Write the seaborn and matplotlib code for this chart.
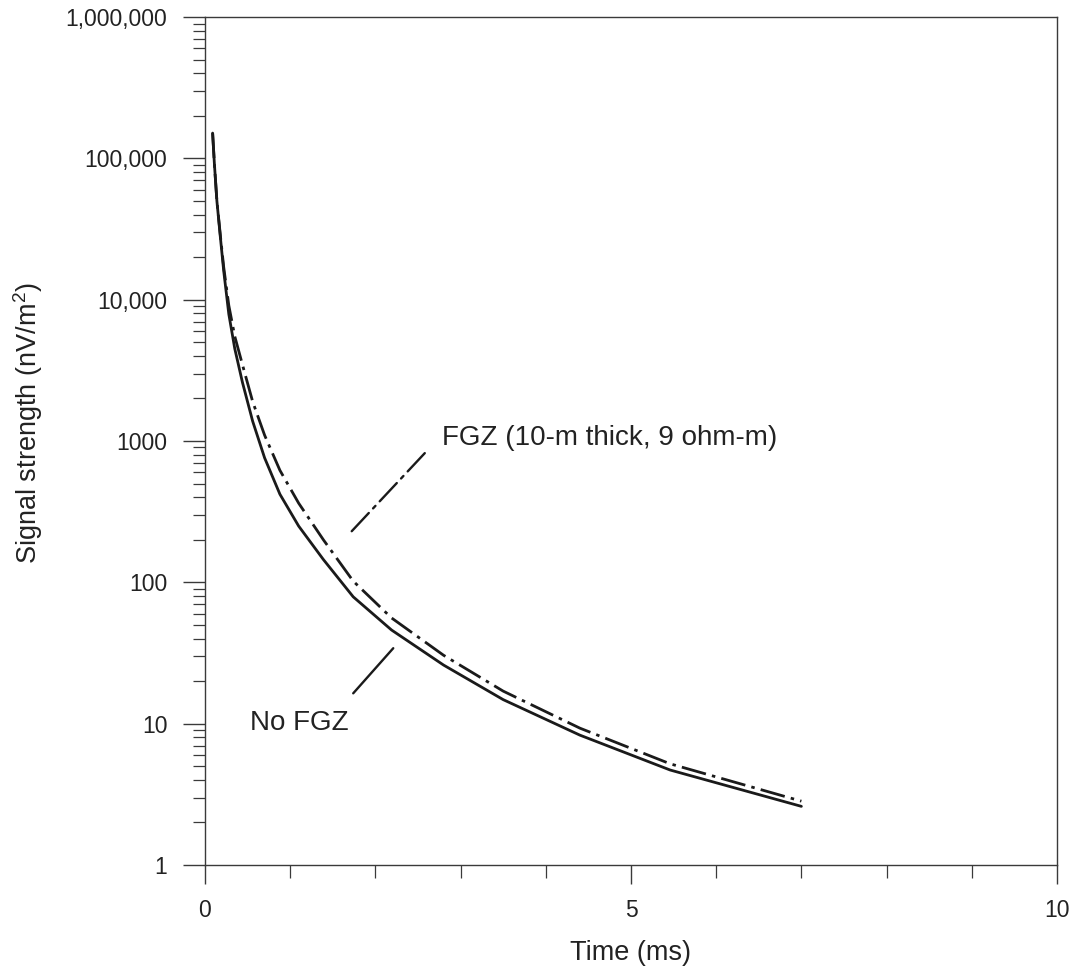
import numpy as np
import pandas as pd
import matplotlib
matplotlib.use("Agg")
import matplotlib.pyplot as plt
import seaborn as sns
from matplotlib.ticker import FixedLocator, LogLocator, NullFormatter, FixedFormatter, MultipleLocator

# ---- data ----
time_ms = [0.09, 0.11, 0.14, 0.18, 0.22, 0.28, 0.35, 0.44, 0.56, 0.70,
           0.88, 1.10, 1.39, 1.74, 2.19, 2.80, 3.50, 4.40, 5.46, 7.00]
no_fgz = [151000, 93000, 50000, 28000, 16000, 7900, 4500, 2600, 1380, 760,
          420, 250, 145, 79, 46, 26, 14.8, 8.3, 4.7, 2.6]
fgz = [151000, 93000, 50000, 28800, 17000, 9100, 5500, 3470, 1900, 1100,
       620, 363, 200, 102, 56, 30.5, 17, 9.3, 5.2, 2.83]
series_names = ["No FGZ", "FGZ (10-m thick, 9 ohm-m)"]
y_tick_values = [1, 10, 100, 1000, 10000, 100000, 1000000]
y_tick_labels = ["1", "10", "100", "1000", "10,000", "100,000", "1,000,000"]
x_tick_values = [0, 5, 10]

df = pd.concat([
    pd.DataFrame({"t": time_ms, "v": no_fgz, "s": series_names[0]}),
    pd.DataFrame({"t": time_ms, "v": fgz, "s": series_names[1]}),
])

sns.set_style("white")
plt.rcParams["font.family"] = ["Liberation Sans", "DejaVu Sans"]
plt.rcParams["mathtext.fontset"] = "custom"
plt.rcParams["mathtext.rm"] = "Liberation Sans"
plt.rcParams["mathtext.it"] = "Liberation Sans:italic"
plt.rcParams["lines.scale_dashes"] = False

DASHDOT = (18, 4.5, 2.5, 4.5)
INK = "#1a1a1a"

fig = plt.figure(figsize=(10.81, 9.74), dpi=100)
ax = fig.add_axes([0.1896, 0.1119, 0.7882, 0.8706])

sns.lineplot(data=df, x="t", y="v", hue="s", style="s",
             palette={series_names[0]: INK, series_names[1]: INK},
             dashes={series_names[0]: "", series_names[1]: DASHDOT},
             linewidth=2.0, legend=False, ax=ax, sort=False)

ax.set_yscale("log")
ax.set_xlim(0, 10)
ax.set_ylim(1, 1e6)

ax.yaxis.set_major_locator(FixedLocator(y_tick_values))
ax.yaxis.set_major_formatter(FixedFormatter(y_tick_labels))
ax.yaxis.set_minor_locator(LogLocator(base=10, subs=np.arange(2, 10)))
ax.yaxis.set_minor_formatter(NullFormatter())
ax.xaxis.set_major_locator(FixedLocator(x_tick_values))
ax.xaxis.set_minor_locator(MultipleLocator(1))

for sp in ax.spines.values():
    sp.set_color("#3a3a3a")
    sp.set_linewidth(1.0)

ax.tick_params(axis="both", which="both", direction="out", color="#3a3a3a",
               labelsize=16.5, labelcolor="#222222",
               left=True, bottom=True, top=False, right=False)
ax.tick_params(axis="y", which="major", length=16, width=1.0, pad=11)
ax.tick_params(axis="y", which="minor", length=8.5, width=0.9)
ax.tick_params(axis="x", which="major", length=13.5, width=1.0, pad=11)
ax.tick_params(axis="x", which="minor", length=9, width=0.9)

ax.set_xlabel("Time (ms)", fontsize=19.5, color="#222222", va="center")
ax.xaxis.set_label_coords(0.5, -(953 - 865) / 848)
ax.set_ylabel("Signal strength (nV/m$^{2}$)", fontsize=19.5, color="#222222",
              va="center", ha="center")
ax.yaxis.set_label_coords(-(205 - 28) / 852, (865 - 423) / 848)

# annotations
ax.annotate("", xy=(1.68, 216), xytext=(2.58, 821),
            arrowprops=dict(arrowstyle="-", color=INK, lw=1.7,
                            linestyle=(0, DASHDOT), shrinkA=0, shrinkB=0))
ax.text(2.78, 1050, series_names[1], fontsize=20, color="#222222", va="center", ha="left")
ax.annotate("", xy=(2.21, 34.2), xytext=(1.74, 16.4),
            arrowprops=dict(arrowstyle="-", color=INK, lw=1.7, shrinkA=0, shrinkB=0))
ax.text(0.53, 10.1, series_names[0], fontsize=20, color="#222222", va="center", ha="left")

fig.savefig("out.png", dpi=100)
